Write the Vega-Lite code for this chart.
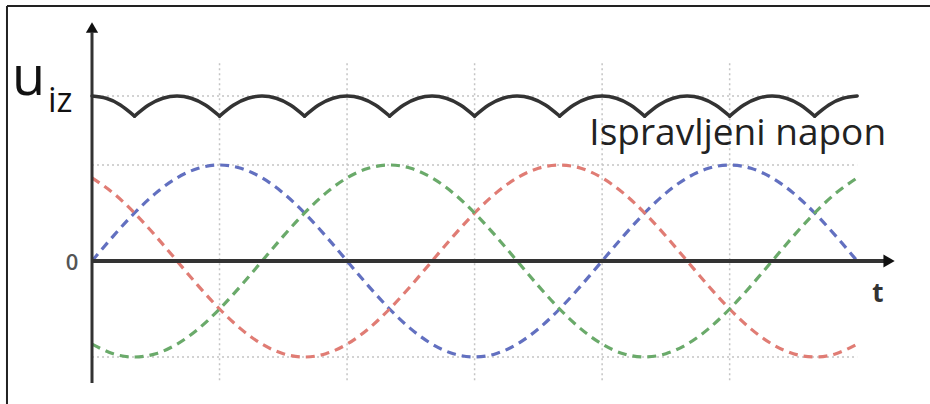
{
"$schema":"https://vega.github.io/schema/vega-lite/v6.json",
"width":930,"height":404,"padding":0,"autosize":{"type":"none"},
"background":"white",
"config":{"view":{"stroke":null}},
"layer":[
{"data":{"values":[{"t":90},{"t":180},{"t":270},{"t":360},{"t":450}]},
 "mark":{"type":"rule","color":"#c4c4c4","strokeWidth":1.5,"strokeDash":[2,3]},
 "encoding":{"x":{"field":"t","type":"quantitative","scale":{"domain":[-64.93,591.39],"nice":false,"zero":false},"axis":null},
  "y":{"datum":2.06,"scale":{"domain":[-1.4896,2.71875],"nice":false,"zero":false},"axis":null},"y2":{"datum":-1.27}}},
{"data":{"values":[{"u":1.719},{"u":1},{"u":-1}]},
 "mark":{"type":"rule","color":"#c4c4c4","strokeWidth":1.5,"strokeDash":[2,3]},
 "encoding":{"y":{"field":"u","type":"quantitative","scale":{"domain":[-1.4896,2.71875],"nice":false,"zero":false},"axis":null},
  "x":{"datum":0,"scale":{"domain":[-64.93,591.39],"nice":false,"zero":false},"axis":null},"x2":{"datum":540}}},
{"data":{"values":[
{"t":0,"plava":0,"crvena":0.866,"zelena":-0.866},
{"t":15,"plava":0.259,"crvena":0.707,"zelena":-0.966},
{"t":30,"plava":0.5,"crvena":0.5,"zelena":-1},
{"t":45,"plava":0.707,"crvena":0.259,"zelena":-0.966},
{"t":60,"plava":0.866,"crvena":0,"zelena":-0.866},
{"t":75,"plava":0.966,"crvena":-0.259,"zelena":-0.707},
{"t":90,"plava":1,"crvena":-0.5,"zelena":-0.5},
{"t":105,"plava":0.966,"crvena":-0.707,"zelena":-0.259},
{"t":120,"plava":0.866,"crvena":-0.866,"zelena":0},
{"t":135,"plava":0.707,"crvena":-0.966,"zelena":0.259},
{"t":150,"plava":0.5,"crvena":-1,"zelena":0.5},
{"t":165,"plava":0.259,"crvena":-0.966,"zelena":0.707},
{"t":180,"plava":0,"crvena":-0.866,"zelena":0.866},
{"t":195,"plava":-0.259,"crvena":-0.707,"zelena":0.966},
{"t":210,"plava":-0.5,"crvena":-0.5,"zelena":1},
{"t":225,"plava":-0.707,"crvena":-0.259,"zelena":0.966},
{"t":240,"plava":-0.866,"crvena":0,"zelena":0.866},
{"t":255,"plava":-0.966,"crvena":0.259,"zelena":0.707},
{"t":270,"plava":-1,"crvena":0.5,"zelena":0.5},
{"t":285,"plava":-0.966,"crvena":0.707,"zelena":0.259},
{"t":300,"plava":-0.866,"crvena":0.866,"zelena":0},
{"t":315,"plava":-0.707,"crvena":0.966,"zelena":-0.259},
{"t":330,"plava":-0.5,"crvena":1,"zelena":-0.5},
{"t":345,"plava":-0.259,"crvena":0.966,"zelena":-0.707},
{"t":360,"plava":0,"crvena":0.866,"zelena":-0.866},
{"t":375,"plava":0.259,"crvena":0.707,"zelena":-0.966},
{"t":390,"plava":0.5,"crvena":0.5,"zelena":-1},
{"t":405,"plava":0.707,"crvena":0.259,"zelena":-0.966},
{"t":420,"plava":0.866,"crvena":0,"zelena":-0.866},
{"t":435,"plava":0.966,"crvena":-0.259,"zelena":-0.707},
{"t":450,"plava":1,"crvena":-0.5,"zelena":-0.5},
{"t":465,"plava":0.966,"crvena":-0.707,"zelena":-0.259},
{"t":480,"plava":0.866,"crvena":-0.866,"zelena":0},
{"t":495,"plava":0.707,"crvena":-0.966,"zelena":0.259},
{"t":510,"plava":0.5,"crvena":-1,"zelena":0.5},
{"t":525,"plava":0.259,"crvena":-0.966,"zelena":0.707},
{"t":540,"plava":0,"crvena":-0.866,"zelena":0.866}
]},
 "transform":[{"fold":["plava","crvena","zelena"],"as":["faza","u"]}],
 "mark":{"type":"line","strokeWidth":3.2,"strokeDash":[9,6],"interpolate":"natural"},
 "encoding":{"x":{"field":"t","type":"quantitative","scale":{"domain":[-64.93,591.39],"nice":false,"zero":false},"axis":null},
  "y":{"field":"u","type":"quantitative","scale":{"domain":[-1.4896,2.71875],"nice":false,"zero":false},"axis":null},
  "color":{"field":"faza","type":"nominal","scale":{"domain":["plava","crvena","zelena"],"range":["#6270c0","#e07c74","#6aaa6a"]},"legend":null}}},
{"data":{"values":[
{"t":0,"u":1.719,"s":0},{"t":10,"u":1.695,"s":0},{"t":20,"u":1.625,"s":0},{"t":30,"u":1.51,"s":0},
{"t":30,"u":1.51,"s":1},{"t":40,"u":1.625,"s":1},{"t":50,"u":1.695,"s":1},{"t":60,"u":1.719,"s":1},{"t":70,"u":1.695,"s":1},{"t":80,"u":1.625,"s":1},{"t":90,"u":1.51,"s":1},
{"t":90,"u":1.51,"s":2},{"t":100,"u":1.625,"s":2},{"t":110,"u":1.695,"s":2},{"t":120,"u":1.719,"s":2},{"t":130,"u":1.695,"s":2},{"t":140,"u":1.625,"s":2},{"t":150,"u":1.51,"s":2},
{"t":150,"u":1.51,"s":3},{"t":160,"u":1.625,"s":3},{"t":170,"u":1.695,"s":3},{"t":180,"u":1.719,"s":3},{"t":190,"u":1.695,"s":3},{"t":200,"u":1.625,"s":3},{"t":210,"u":1.51,"s":3},
{"t":210,"u":1.51,"s":4},{"t":220,"u":1.625,"s":4},{"t":230,"u":1.695,"s":4},{"t":240,"u":1.719,"s":4},{"t":250,"u":1.695,"s":4},{"t":260,"u":1.625,"s":4},{"t":270,"u":1.51,"s":4},
{"t":270,"u":1.51,"s":5},{"t":280,"u":1.625,"s":5},{"t":290,"u":1.695,"s":5},{"t":300,"u":1.719,"s":5},{"t":310,"u":1.695,"s":5},{"t":320,"u":1.625,"s":5},{"t":330,"u":1.51,"s":5},
{"t":330,"u":1.51,"s":6},{"t":340,"u":1.625,"s":6},{"t":350,"u":1.695,"s":6},{"t":360,"u":1.719,"s":6},{"t":370,"u":1.695,"s":6},{"t":380,"u":1.625,"s":6},{"t":390,"u":1.51,"s":6},
{"t":390,"u":1.51,"s":7},{"t":400,"u":1.625,"s":7},{"t":410,"u":1.695,"s":7},{"t":420,"u":1.719,"s":7},{"t":430,"u":1.695,"s":7},{"t":440,"u":1.625,"s":7},{"t":450,"u":1.51,"s":7},
{"t":450,"u":1.51,"s":8},{"t":460,"u":1.625,"s":8},{"t":470,"u":1.695,"s":8},{"t":480,"u":1.719,"s":8},{"t":490,"u":1.695,"s":8},{"t":500,"u":1.625,"s":8},{"t":510,"u":1.51,"s":8},
{"t":510,"u":1.51,"s":9},{"t":520,"u":1.625,"s":9},{"t":530,"u":1.695,"s":9},{"t":540,"u":1.719,"s":9}
]},
 "mark":{"type":"line","strokeWidth":3.5,"color":"#333333","interpolate":"natural","strokeCap":"round"},
 "encoding":{"x":{"field":"t","type":"quantitative","scale":{"domain":[-64.93,591.39],"nice":false,"zero":false},"axis":null},
  "y":{"field":"u","type":"quantitative","scale":{"domain":[-1.4896,2.71875],"nice":false,"zero":false},"axis":null},
  "detail":{"field":"s","type":"nominal"}}},
{"data":{"values":[{}]},
 "mark":{"type":"rule","color":"#333333","strokeWidth":3},
 "encoding":{"x":{"datum":0,"scale":{"domain":[-64.93,591.39],"nice":false,"zero":false},"axis":null},"y":{"datum":-1.271,"scale":{"domain":[-1.4896,2.71875],"nice":false,"zero":false},"axis":null},"y2":{"datum":2.38}}},
{"data":{"values":[{}]},
 "mark":{"type":"rule","color":"#333333","strokeWidth":4},
 "encoding":{"x":{"datum":0,"scale":{"domain":[-64.93,591.39],"nice":false,"zero":false},"axis":null},"x2":{"datum":560},"y":{"datum":0,"scale":{"domain":[-1.4896,2.71875],"nice":false,"zero":false},"axis":null}}},
{"data":{"values":[{}]},
 "mark":{"type":"point","shape":"triangle-up","size":150,"filled":true,"color":"#111111","opacity":1},
 "encoding":{"x":{"datum":0},"y":{"datum":2.432}}},
{"data":{"values":[{}]},
 "mark":{"type":"point","shape":"triangle-right","size":170,"filled":true,"color":"#111111","opacity":1},
 "encoding":{"x":{"datum":562.5},"y":{"datum":0}}},
{"data":{"values":[{}]},
 "mark":{"type":"rule","color":"#222222","strokeWidth":2},
 "encoding":{"x":{"datum":-60},"x2":{"datum":591.39},"y":{"datum":2.656}}},
{"data":{"values":[{}]},
 "mark":{"type":"rule","color":"#222222","strokeWidth":2},
 "encoding":{"x":{"datum":-60},"y":{"datum":2.656},"y2":{"datum":-1.4896}}},
{"data":{"values":[{}]},
 "mark":{"type":"text","text":"u","font":"Open Sans","fontSize":54,"align":"center","baseline":"alphabetic","color":"#111111"},
 "encoding":{"x":{"datum":-44.8},"y":{"datum":1.729}}},
{"data":{"values":[{}]},
 "mark":{"type":"text","text":"iz","font":"Open Sans","fontSize":34,"align":"left","baseline":"alphabetic","color":"#111111"},
 "encoding":{"x":{"datum":-31.05},"y":{"datum":1.552}}},
{"data":{"values":[{}]},
 "mark":{"type":"text","text":"0","font":"Open Sans","fontSize":22,"fontWeight":600,"align":"center","baseline":"middle","color":"#555555"},
 "encoding":{"x":{"datum":-14.1},"y":{"datum":-0.02}}},
{"data":{"values":[{}]},
 "mark":{"type":"text","text":"t","font":"Open Sans","fontSize":26,"fontWeight":"bold","align":"center","baseline":"middle","color":"#333333"},
 "encoding":{"x":{"datum":554.7},"y":{"datum":-0.344}}},
{"data":{"values":[{}]},
 "mark":{"type":"text","text":"Ispravljeni napon","font":"Open Sans","fontSize":37,"align":"left","baseline":"alphabetic","color":"#222222"},
 "encoding":{"x":{"datum":351},"y":{"datum":1.208}}}
]
}
